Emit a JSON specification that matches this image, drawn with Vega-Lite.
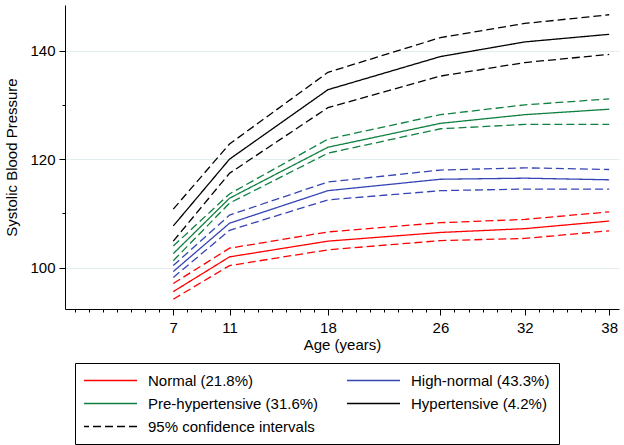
{
  "$schema": "https://vega.github.io/schema/vega-lite/v6.json",
  "width": 554,
  "height": 304,
  "autosize": {"type": "none"},
  "padding": {"left": 65, "top": 5, "right": 5, "bottom": 136},
  "background": "white",
  "config": {
    "view": {"stroke": null},
    "font": "Liberation Sans",
    "axis": {
      "domainColor": "#000000",
      "domainWidth": 1,
      "tickColor": "#000000",
      "tickWidth": 1,
      "labelFont": "Liberation Sans",
      "labelFontSize": 15,
      "labelColor": "#000000",
      "titleFont": "Liberation Sans",
      "titleFontSize": 15,
      "titleFontWeight": "normal",
      "titleColor": "#000000"
    }
  },
  "data": {
    "values": [
      {"age": 7, "group": "Normal (21.8%)", "est": 95.6, "lo": 94.2, "hi": 97.1},
      {"age": 11, "group": "Normal (21.8%)", "est": 102.0, "lo": 100.4, "hi": 103.6},
      {"age": 18, "group": "Normal (21.8%)", "est": 104.9, "lo": 103.3, "hi": 106.6},
      {"age": 26, "group": "Normal (21.8%)", "est": 106.5, "lo": 105.0, "hi": 108.3},
      {"age": 32, "group": "Normal (21.8%)", "est": 107.2, "lo": 105.4, "hi": 108.9},
      {"age": 38, "group": "Normal (21.8%)", "est": 108.6, "lo": 106.8, "hi": 110.3},
      {"age": 7, "group": "High-normal (43.3%)", "est": 99.3, "lo": 98.2, "hi": 100.4},
      {"age": 11, "group": "High-normal (43.3%)", "est": 108.2, "lo": 106.9, "hi": 109.7},
      {"age": 18, "group": "High-normal (43.3%)", "est": 114.2, "lo": 112.5, "hi": 115.8},
      {"age": 26, "group": "High-normal (43.3%)", "est": 116.3, "lo": 114.2, "hi": 118.0},
      {"age": 32, "group": "High-normal (43.3%)", "est": 116.5, "lo": 114.5, "hi": 118.4},
      {"age": 38, "group": "High-normal (43.3%)", "est": 116.2, "lo": 114.5, "hi": 118.1},
      {"age": 7, "group": "Pre-hypertensive (31.6%)", "est": 102.6, "lo": 101.3, "hi": 104.0},
      {"age": 11, "group": "Pre-hypertensive (31.6%)", "est": 112.8, "lo": 111.9, "hi": 113.6},
      {"age": 18, "group": "Pre-hypertensive (31.6%)", "est": 122.2, "lo": 121.1, "hi": 123.7},
      {"age": 26, "group": "Pre-hypertensive (31.6%)", "est": 126.6, "lo": 125.6, "hi": 128.2},
      {"age": 32, "group": "Pre-hypertensive (31.6%)", "est": 128.2, "lo": 126.4, "hi": 130.0},
      {"age": 38, "group": "Pre-hypertensive (31.6%)", "est": 129.2, "lo": 126.4, "hi": 131.1},
      {"age": 7, "group": "Hypertensive (4.2%)", "est": 107.7, "lo": 104.9, "hi": 110.8},
      {"age": 11, "group": "Hypertensive (4.2%)", "est": 120.0, "lo": 117.4, "hi": 122.8},
      {"age": 18, "group": "Hypertensive (4.2%)", "est": 132.8, "lo": 129.5, "hi": 136.0},
      {"age": 26, "group": "Hypertensive (4.2%)", "est": 138.9, "lo": 135.3, "hi": 142.4},
      {"age": 32, "group": "Hypertensive (4.2%)", "est": 141.6, "lo": 137.8, "hi": 145.0},
      {"age": 38, "group": "Hypertensive (4.2%)", "est": 143.0, "lo": 139.3, "hi": 146.6}
    ]
  },
  "encoding": {
    "x": {
      "field": "age",
      "type": "quantitative",
      "scale": {"domain": [-0.7, 38.7], "nice": false, "zero": false},
      "axis": {
        "title": "Age (years)",
        "values": [0,1,2,3,4,5,6,7,8,9,10,11,12,13,14,15,16,17,18,19,20,21,22,23,24,25,26,27,28,29,30,31,32,33,34,35,36,37,38],
        "labelExpr": "indexof([7,11,18,26,32,38], datum.value) >= 0 ? datum.label : ''",
        "tickSize": {"condition": {"test": "indexof([7,11,18,26,32,38], datum.value) >= 0", "value": 6}, "value": 3},
        "labelPadding": 5,
        "titlePadding": 2,
        "grid": false,
        "labelFlush": false,
        "labelOverlap": false
      }
    },
    "color": {
      "field": "group",
      "type": "nominal",
      "scale": {
        "domain": ["Normal (21.8%)", "Pre-hypertensive (31.6%)", "95% confidence intervals", "High-normal (43.3%)", "Hypertensive (4.2%)"],
        "range": ["#ff0000", "#108040", "#000000", "#3645b4", "#000000"]
      },
      "legend": {
        "title": null,
        "orient": "none",
        "legendX": 10,
        "legendY": 358,
        "columns": 2,
        "symbolType": "stroke",
        "symbolSize": 3136,
        "symbolStrokeWidth": 1.3,
        "symbolOffset": -4,
        "clipHeight": 17,
        "labelFont": "Liberation Sans",
        "labelFontSize": 15,
        "labelColor": "#000000",
        "labelOffset": 10,
        "labelLimit": 300,
        "columnPadding": 28,
        "rowPadding": 6,
        "padding": 9,
        "strokeColor": "#000000"
      }
    }
  },
  "layer": [
    {
      "mark": {"type": "line", "strokeWidth": 1.3},
      "encoding": {
        "y": {
          "field": "est",
          "type": "quantitative",
          "scale": {"domain": [92.4, 148.4], "nice": false, "zero": false},
          "axis": {
            "title": "Systolic Blood Pressure",
            "values": [100, 110, 120, 130, 140],
            "labelExpr": "datum.value % 20 === 0 ? datum.label : ''",
            "tickSize": {"condition": {"test": "datum.value % 20 === 0", "value": 6}, "value": 3},
            "grid": true,
            "gridColor": "#e3ecee",
            "gridWidth": 1,
            "gridOpacity": {"condition": {"test": "datum.value % 20 === 0", "value": 1}, "value": 0},
            "labelPadding": 4,
            "titlePadding": 10
          }
        },
        "strokeDash": {
          "field": "group",
          "type": "nominal",
          "scale": {
            "domain": ["Normal (21.8%)", "Pre-hypertensive (31.6%)", "95% confidence intervals", "High-normal (43.3%)", "Hypertensive (4.2%)"],
            "range": [[1, 0], [1, 0], [8, 4], [1, 0], [1, 0]]
          },
          "legend": {
            "title": null,
            "orient": "none",
            "legendX": 10,
            "legendY": 358,
            "columns": 2,
            "symbolType": "stroke",
            "symbolSize": 3136,
            "symbolStrokeWidth": 1.3,
            "symbolOffset": -4,
            "clipHeight": 17,
            "labelFont": "Liberation Sans",
            "labelFontSize": 15,
            "labelColor": "#000000",
            "labelOffset": 10,
            "labelLimit": 300,
            "columnPadding": 28,
            "rowPadding": 6,
            "padding": 9,
            "strokeColor": "#000000"
          }
        }
      }
    },
    {
      "mark": {"type": "line", "strokeWidth": 1.3, "strokeDash": [8, 4]},
      "encoding": {
        "y": {
          "field": "lo",
          "type": "quantitative",
          "scale": {"domain": [92.4, 148.4], "nice": false, "zero": false},
          "axis": {
            "title": "Systolic Blood Pressure",
            "values": [100, 110, 120, 130, 140],
            "labelExpr": "datum.value % 20 === 0 ? datum.label : ''",
            "tickSize": {"condition": {"test": "datum.value % 20 === 0", "value": 6}, "value": 3},
            "grid": true,
            "gridColor": "#e3ecee",
            "gridWidth": 1,
            "gridOpacity": {"condition": {"test": "datum.value % 20 === 0", "value": 1}, "value": 0},
            "labelPadding": 4,
            "titlePadding": 10
          }
        }
      }
    },
    {
      "mark": {"type": "line", "strokeWidth": 1.3, "strokeDash": [8, 4]},
      "encoding": {
        "y": {
          "field": "hi",
          "type": "quantitative",
          "scale": {"domain": [92.4, 148.4], "nice": false, "zero": false},
          "axis": {
            "title": "Systolic Blood Pressure",
            "values": [100, 110, 120, 130, 140],
            "labelExpr": "datum.value % 20 === 0 ? datum.label : ''",
            "tickSize": {"condition": {"test": "datum.value % 20 === 0", "value": 6}, "value": 3},
            "grid": true,
            "gridColor": "#e3ecee",
            "gridWidth": 1,
            "gridOpacity": {"condition": {"test": "datum.value % 20 === 0", "value": 1}, "value": 0},
            "labelPadding": 4,
            "titlePadding": 10
          }
        }
      }
    }
  ]
}
